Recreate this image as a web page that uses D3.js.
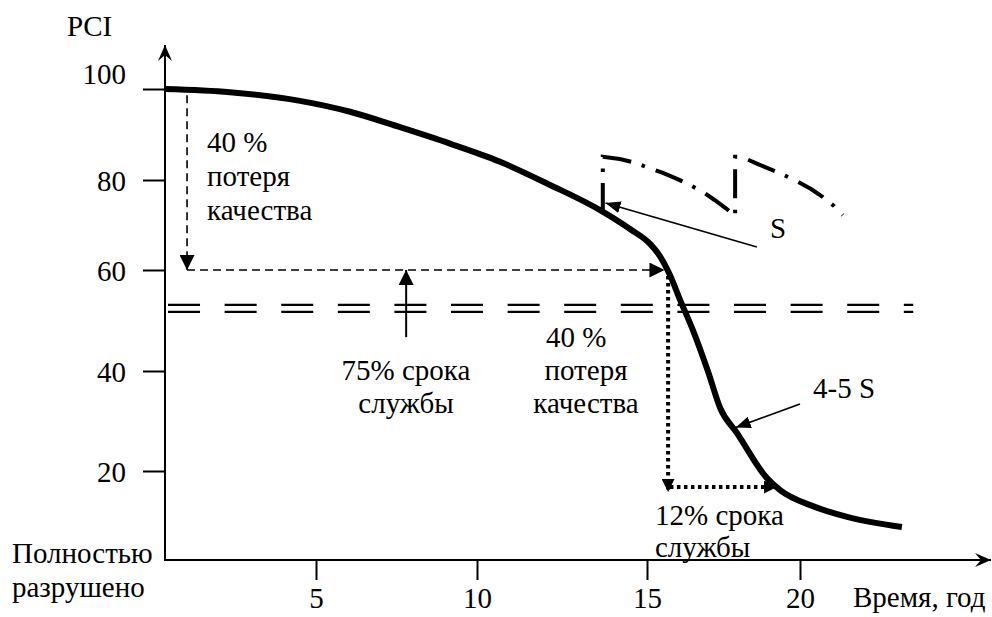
<!DOCTYPE html>
<html><head><meta charset="utf-8">
<script src="https://cdn.jsdelivr.net/npm/d3@7"></script>
<style>body{margin:0;background:#fff}</style>
</head><body><svg id="c" width="992" height="617"></svg>
<script>
// ---- data ----
const years = [0, 2.15, 4.47, 6.06, 7.61, 9.16, 10.68, 12.15, 13.62, 14.5, 15.1, 15.42, 15.75, 16.08, 16.5, 17.0, 17.39, 17.94, 18.92, 19.35, 20.42, 21.54, 23.33];
const pci   = [100, 99.3, 97.4, 95.0, 91.6, 88.0, 84.0, 78.9, 73.3, 69.1, 65.8, 63.1, 59.0, 54.1, 48.1, 39.8, 32.6, 27.6, 18.4, 15.7, 12.1, 9.7, 7.4];
const rehabYears = [13.7, 13.7, 14.2, 14.65, 15.07, 15.5, 16.0, 16.4, 16.86, 17.22, 17.6, 17.88, 17.88, 18.1, 18.59, 19.02, 19.5, 19.93, 20.36, 20.75, 21.1, 21.4];
const rehabPci   = [72.9, 85.1, 84.6, 83.8, 82.6, 81.6, 80.2, 78.9, 77.2, 75.5, 73.6, 72.0, 85.1, 85.05, 83.6, 82.4, 81.0, 79.6, 78.0, 76.2, 74.3, 72.2];
const thresholdPci = 52.4;
const thresholdYears = [0.1, 23.7];
const xTicks = [5, 10, 15, 20];
const yTicks = [20, 40, 60, 80, 100];
const xTickLabels = ["5", "10", "15", "20"];
const yTickLabels = ["20", "40", "60", "80", "100"];
const yTitle = "PCI";
const xTitle = "Время, год";
const zeroLabel = ["Полностью", "разрушено"];
const lossLabel = ["40 %", "потеря", "качества"];
const life75Label = ["75% срока", "службы"];
const life12Label = ["12% срока", "службы"];
const sLabel = "S";
const s45Label = "4-5 S";

const FONT = "'Liberation Serif'";
const FS = "29px";

// ---- scales ----
const svg = d3.select("#c");
const x = d3.scaleLinear().domain([0, 5, 10, 15, 20]).range([165, 316, 477, 647, 800]);
const y = d3.scaleLinear().domain([0, 20, 40, 60, 80, 100]).range([560, 471, 371, 270, 180, 89]);

// ---- markers ----
const defs = svg.append("defs");
function marker(id, d, w, h) {
  defs.append("marker").attr("id", id).attr("viewBox", `${-w} ${-h/2} ${w} ${h}`)
    .attr("refX", 0).attr("refY", 0).attr("markerWidth", w).attr("markerHeight", h)
    .attr("markerUnits", "userSpaceOnUse").attr("orient", "auto")
    .append("path").attr("d", d).attr("fill", "#000");
}
marker("axisHead", "M0,0 L-16,-7 L-10,0 L-16,7 Z", 16, 14);
marker("solidHead", "M0,0 L-15,-7.5 L-15,7.5 Z", 15, 15);
marker("smallHead", "M0,0 L-13,-6.5 L-13,6.5 Z", 13, 13);
marker("thinHead", "M0,0 L-15,-6 L-15,6 Z", 15, 12);

const P = (a, b) => [x(a), y(b)];
const lineGen = d3.line();

// ---- axes ----
const yAxis = d3.axisLeft(y).tickValues(yTicks).tickSize(22).tickPadding(17)
  .tickFormat((d, i) => yTickLabels[i]);
const gy = svg.append("g").attr("transform", `translate(${x(0)},0)`).call(yAxis);
gy.select(".domain").remove();
gy.selectAll(".tick line").attr("stroke", "#000").attr("stroke-width", 2);
gy.selectAll(".tick text").attr("fill", "#000").style("font-family", FONT).style("font-size", FS)
  .attr("dy", d => d === 100 ? "-0.2em" : "0.35em");

const xAxis = d3.axisBottom(x).tickValues(xTicks).tickSize(20).tickPadding(7)
  .tickFormat((d, i) => xTickLabels[i]);
const gx = svg.append("g").attr("transform", `translate(0,${y(0)})`).call(xAxis);
gx.select(".domain").remove();
gx.selectAll(".tick line").attr("stroke", "#000").attr("stroke-width", 2);
gx.selectAll(".tick text").attr("fill", "#000").style("font-family", FONT).style("font-size", FS);

svg.append("line").attr("x1", x(0)).attr("y1", y(0)).attr("x2", x(0)).attr("y2", 45)
  .attr("stroke", "#000").attr("stroke-width", 2).attr("marker-end", "url(#axisHead)");
svg.append("line").attr("x1", x(0) - 1).attr("y1", y(0)).attr("x2", 991).attr("y2", y(0))
  .attr("stroke", "#000").attr("stroke-width", 2).attr("marker-end", "url(#axisHead)");

// ---- threshold double dashed line ----
[-3.5, 3.5].forEach(off => {
  svg.append("line").attr("x1", x(thresholdYears[0])).attr("x2", x(thresholdYears[1]))
    .attr("y1", y(thresholdPci) + off).attr("y2", y(thresholdPci) + off)
    .attr("stroke", "#000").attr("stroke-width", 2.2).attr("stroke-dasharray", "32,24.6");
});

// ---- annotation arrows ----
svg.append("path").attr("d", lineGen([P(0.73, 98.6), P(0.73, 60)]))
  .attr("stroke", "#000").attr("stroke-width", 1.6).attr("stroke-dasharray", "8,5").attr("fill", "none")
  .attr("marker-end", "url(#solidHead)");
svg.append("path").attr("d", lineGen([P(0.73, 60), P(15.57, 60)]))
  .attr("stroke", "#000").attr("stroke-width", 1.6).attr("stroke-dasharray", "8,5").attr("fill", "none")
  .attr("marker-end", "url(#solidHead)");
svg.append("path").attr("d", lineGen([P(7.8, 46.7), P(7.8, 60)]))
  .attr("stroke", "#000").attr("stroke-width", 2).attr("fill", "none")
  .attr("marker-end", "url(#solidHead)");
svg.append("path").attr("d", lineGen([P(15.69, 58.8), P(15.69, 15.3)]))
  .attr("stroke", "#000").attr("stroke-width", 4).attr("stroke-dasharray", "3.5,3.5").attr("fill", "none")
  .attr("marker-end", "url(#smallHead)");
svg.append("path").attr("d", lineGen([P(15.75, 16.4), P(19.25, 16.4)]))
  .attr("stroke", "#000").attr("stroke-width", 4).attr("stroke-dasharray", "3.5,3.5").attr("fill", "none")
  .attr("marker-end", "url(#smallHead)");
svg.append("path").attr("d", lineGen([P(18.59, 65.1), P(13.78, 74.9)]))
  .attr("stroke", "#000").attr("stroke-width", 1.6).attr("fill", "none")
  .attr("marker-end", "url(#thinHead)");
svg.append("path").attr("d", lineGen([P(20.0, 33.4), P(17.9, 28.7)]))
  .attr("stroke", "#000").attr("stroke-width", 1.8).attr("fill", "none")
  .attr("marker-end", "url(#thinHead)");

// ---- rehab dash-dot line ----
svg.append("path")
  .attr("d", d3.line().x(d => x(d[0])).y(d => y(d[1]))(d3.zip(rehabYears, rehabPci)))
  .attr("fill", "none").attr("stroke", "#000").attr("stroke-width", 4)
  .attr("stroke-dasharray", "29,11,3.5,11.5").attr("stroke-linejoin", "miter");

// ---- main deterioration curve ----
svg.append("path")
  .attr("d", d3.line().x(d => x(d[0])).y(d => y(d[1])).curve(d3.curveMonotoneX)(d3.zip(years, pci)))
  .attr("fill", "none").attr("stroke", "#000").attr("stroke-width", 6)
  .attr("stroke-linejoin", "round");

// ---- texts ----
function txt(s, px, py, anchor) {
  svg.append("text").attr("x", px).attr("y", py).attr("text-anchor", anchor || "start")
    .attr("fill", "#000").style("font-family", FONT).style("font-size", FS).text(s);
}
txt(yTitle, 67, 36);
txt(xTitle, 853, 607);
txt(zeroLabel[0], 12, 563);
txt(zeroLabel[1], 12, 597);
txt(lossLabel[0], 207, 152);
txt(lossLabel[1], 207, 186);
txt(lossLabel[2], 207, 220);
txt(lossLabel[0], 546, 347);
txt(lossLabel[1], 586, 380, "middle");
txt(lossLabel[2], 586, 413, "middle");
txt(life75Label[0], 406, 380, "middle");
txt(life75Label[1], 406, 413, "middle");
txt(life12Label[0], 655, 525);
txt(life12Label[1], 655, 557);
txt(sLabel, 770, 238);
txt(s45Label, 813, 398);
</script>
</body></html>
